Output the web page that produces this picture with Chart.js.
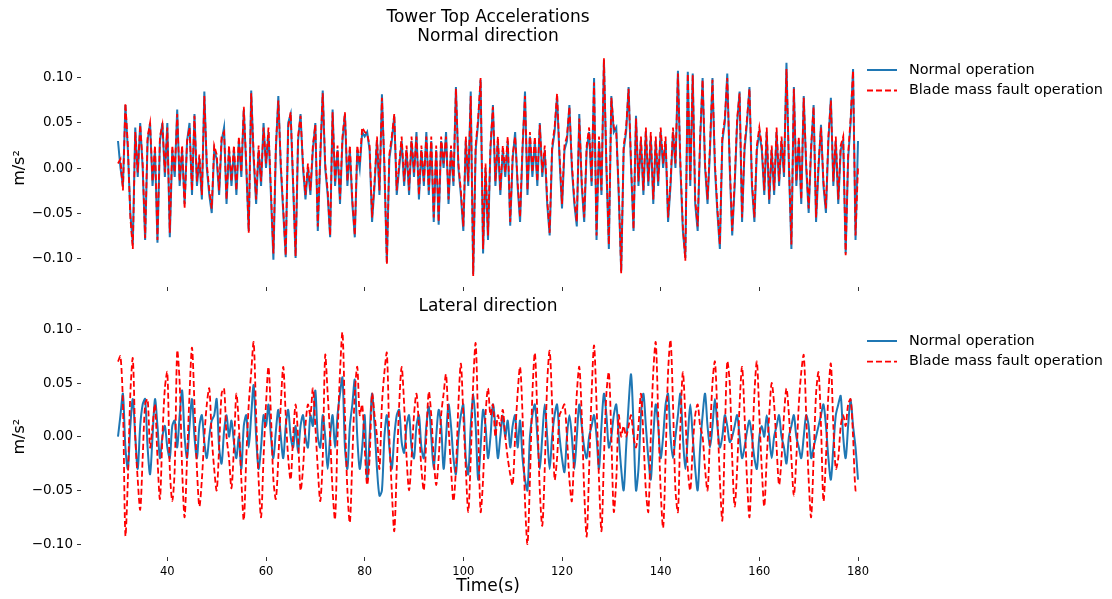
<!DOCTYPE html>
<html><head><meta charset="utf-8">
<script src="https://cdn.jsdelivr.net/npm/chart.js@4/dist/chart.umd.min.js"></script>
<style>
html,body{margin:0;padding:0;background:#fff;width:1112px;height:599px;overflow:hidden}
#wrap{position:relative;width:1112px;height:599px;background:#fff}
canvas{position:absolute;left:0}
#c1{top:0}
#c2{top:290px}
</style></head><body>
<div id="wrap"><canvas id="c1" width="1112" height="300"></canvas><canvas id="c2" width="1112" height="309"></canvas></div>
<script>
// ---- data ----
const startTime = 30, sampleStep = 0.5;           // seconds
const xTickValues = [40, 60, 80, 100, 120, 140, 160, 180];
const yTickValues = [-0.10, -0.05, 0.00, 0.05, 0.10];
const seriesLabels = ['Normal operation', 'Blade mass fault operation'];

// Normal direction, normal operation (m/s^2), every 0.5 s from 30 s to 180 s
const normalDirNormalOp = [
0.03,0.0,-0.02,0.07,0.02,-0.05,-0.085,0.045,-0.01,0.05,
0.0,-0.08,0.03,0.05,-0.02,0.02,-0.083,0.03,0.05,-0.01,
0.05,-0.077,0.02,-0.01,0.065,-0.02,0.02,-0.04,0.03,0.05,
-0.03,0.06,-0.02,0.01,-0.035,0.085,0.0,-0.03,-0.05,0.02,
0.01,-0.03,0.03,0.045,-0.04,0.02,-0.02,0.02,-0.03,0.03,
-0.01,0.065,0.0,-0.07,0.086,0.01,-0.04,0.02,-0.02,0.05,
0.0,0.04,-0.03,-0.102,0.02,0.08,0.0,-0.05,-0.099,0.05,
0.06,-0.02,-0.1,0.03,0.06,0.0,-0.035,0.0,-0.03,0.02,
0.05,-0.07,0.01,0.086,0.0,-0.03,-0.077,0.065,-0.02,0.02,
-0.04,0.03,0.06,-0.02,0.02,-0.04,-0.077,0.02,0.0,0.04,
0.035,0.04,0.02,-0.06,-0.02,0.03,-0.03,0.082,0.0,-0.105,
0.01,0.03,0.058,-0.03,0.0,0.03,-0.02,0.02,-0.03,0.03,
-0.01,0.04,-0.035,0.02,-0.02,0.04,-0.03,0.03,-0.06,0.02,
-0.063,0.03,0.0,0.04,-0.04,0.02,-0.02,0.09,0.0,-0.03,
-0.07,0.03,-0.02,0.085,-0.118,0.02,0.05,0.098,-0.095,0.0,
-0.08,0.02,0.07,-0.02,0.03,-0.03,0.02,-0.01,0.03,-0.064,
0.01,0.04,-0.02,-0.06,0.02,0.085,-0.03,0.035,-0.01,0.03,
-0.02,0.05,-0.01,0.02,-0.04,-0.075,0.02,0.04,0.08,0.01,
-0.045,0.02,0.03,0.07,0.0,-0.04,-0.065,0.06,-0.02,-0.06,
0.02,0.04,-0.02,0.1,-0.08,0.03,-0.03,0.12,0.0,-0.09,
0.08,0.04,0.045,-0.03,-0.115,0.02,0.04,0.09,0.0,-0.07,
0.058,-0.02,0.03,-0.03,0.04,-0.02,0.035,-0.04,0.03,-0.02,
0.04,0.0,0.03,-0.06,-0.02,0.04,0.0,0.108,0.0,-0.07,
-0.1,0.107,-0.02,0.105,-0.04,-0.07,0.03,0.1,0.0,-0.04,
0.02,0.1,0.0,-0.05,-0.09,0.03,0.05,0.105,0.0,-0.075,
-0.02,0.05,0.085,-0.06,0.02,0.05,0.09,-0.02,-0.06,0.02,
0.04,0.02,-0.03,0.04,-0.04,0.02,-0.03,0.04,-0.02,0.03,
-0.01,0.117,0.0,-0.09,0.09,-0.02,0.03,-0.04,0.08,0.0,
-0.05,0.02,0.07,-0.06,0.0,0.048,-0.02,-0.05,0.03,0.078,
-0.02,0.03,-0.04,0.02,0.03,-0.095,0.01,0.05,0.11,-0.08,
0.03];

// Normal direction, blade mass fault operation
const normalDirFaultOp = [
0.005,0.01,-0.025,0.072,0.025,-0.055,-0.09,0.04,-0.005,0.048,
0.005,-0.078,0.035,0.05,-0.015,0.025,-0.08,0.035,0.048,-0.005,
0.045,-0.072,0.025,-0.005,0.06,-0.015,0.025,-0.045,0.03,0.045,
-0.025,0.058,-0.015,0.015,-0.03,0.08,0.005,-0.025,-0.045,0.025,
0.015,-0.025,0.035,0.04,-0.035,0.025,-0.015,0.025,-0.025,0.035,
-0.005,0.068,0.005,-0.072,0.083,0.015,-0.035,0.025,-0.015,0.045,
0.005,0.045,-0.025,-0.095,0.025,0.075,0.005,-0.045,-0.097,0.045,
0.062,-0.015,-0.098,0.035,0.058,0.005,-0.03,0.005,-0.025,0.025,
0.048,-0.065,0.015,0.083,0.005,-0.025,-0.075,0.062,-0.015,0.025,
-0.035,0.035,0.062,-0.015,0.025,-0.035,-0.075,0.025,0.005,0.045,
0.04,0.038,0.025,-0.055,-0.015,0.035,-0.025,0.078,0.005,-0.107,
0.015,0.035,0.06,-0.025,0.005,0.035,-0.015,0.025,-0.025,0.035,
-0.005,0.035,-0.03,0.025,-0.015,0.035,-0.025,0.035,-0.055,0.025,
-0.06,0.035,0.005,0.035,-0.035,0.025,-0.015,0.088,0.005,-0.025,
-0.065,0.035,-0.015,0.08,-0.12,0.025,0.055,0.1,-0.09,0.005,
-0.075,0.025,0.068,-0.015,0.035,-0.025,0.025,-0.005,0.035,-0.06,
0.015,0.035,-0.015,-0.055,0.025,0.08,-0.025,0.04,-0.005,0.035,
-0.015,0.048,-0.005,0.025,-0.035,-0.072,0.025,0.045,0.083,0.015,
-0.04,0.025,0.035,0.068,0.005,-0.035,-0.06,0.055,-0.015,-0.055,
0.025,0.045,-0.015,0.095,-0.075,0.035,-0.025,0.122,0.005,-0.085,
0.078,0.045,0.04,-0.025,-0.117,0.025,0.045,0.088,0.005,-0.068,
0.055,-0.015,0.035,-0.025,0.045,-0.015,0.04,-0.035,0.035,-0.015,
0.045,0.005,0.035,-0.055,-0.015,0.045,0.005,0.105,0.005,-0.065,
-0.103,0.105,-0.015,0.103,-0.035,-0.065,0.035,0.098,0.005,-0.035,
0.025,0.098,0.005,-0.045,-0.085,0.035,0.055,0.1,0.005,-0.07,
-0.015,0.055,0.083,-0.055,0.025,0.055,0.088,-0.015,-0.055,0.025,
0.045,0.025,-0.025,0.045,-0.035,0.025,-0.025,0.045,-0.015,0.035,
-0.005,0.11,0.005,-0.085,0.088,-0.015,0.035,-0.035,0.078,0.005,
-0.045,0.025,0.068,-0.055,0.005,0.045,-0.015,-0.045,0.035,0.075,
-0.015,0.035,-0.035,0.025,0.035,-0.097,0.015,0.055,0.108,-0.075,
0.0];

// Lateral direction, normal operation
const lateralDirNormalOp = [
0.0,0.02,0.04,-0.01,-0.03,0.01,0.035,0.0,-0.03,0.01,
0.03,0.035,-0.01,-0.035,0.0,0.035,0.01,-0.02,0.0,0.01,
-0.01,-0.02,0.01,0.015,-0.01,0.02,0.043,0.0,-0.02,0.01,
0.035,0.0,-0.02,0.01,0.02,-0.005,-0.02,0.0,0.015,0.02,
0.035,-0.01,-0.025,0.005,0.02,0.0,0.015,-0.005,-0.02,0.0,
-0.03,0.01,0.02,-0.01,0.02,0.048,0.0,-0.03,-0.01,0.02,
0.01,0.03,0.0,-0.02,0.005,0.025,0.0,-0.02,0.01,0.025,
0.0,-0.01,0.01,-0.015,0.01,0.02,0.0,-0.01,0.02,0.01,
0.043,0.0,-0.01,0.02,0.0,-0.03,0.0,0.02,-0.01,0.02,
0.04,0.055,-0.01,-0.03,0.01,0.03,0.053,0.0,-0.03,-0.01,
0.02,-0.04,0.0,0.04,0.01,-0.03,-0.055,-0.05,0.0,0.02,
-0.01,-0.03,0.0,0.02,0.025,-0.005,-0.015,0.01,0.02,-0.01,
-0.02,0.01,0.02,-0.01,-0.02,0.01,0.028,0.0,-0.03,0.0,
0.025,0.01,-0.03,0.0,0.03,0.01,-0.02,-0.035,0.0,0.02,
0.03,-0.02,-0.035,0.01,0.04,0.01,-0.04,-0.01,0.025,0.01,
-0.02,0.0,0.03,0.01,-0.02,0.0,0.02,0.0,0.015,-0.01,
0.01,0.02,-0.01,0.015,-0.02,-0.04,-0.05,0.0,0.02,0.03,
0.0,-0.03,0.0,0.03,0.0,-0.03,0.0,0.02,0.03,0.0,
-0.02,-0.033,0.0,0.02,0.0,-0.03,0.0,0.03,0.01,-0.01,
-0.02,0.0,0.01,0.02,0.0,-0.03,0.01,0.04,0.02,-0.01,
0.0,0.02,0.03,0.0,-0.03,-0.05,-0.01,0.03,0.058,0.01,
-0.05,-0.03,0.02,0.04,0.01,-0.02,-0.04,0.0,0.03,0.01,
-0.02,0.0,0.03,0.04,0.0,-0.02,0.0,0.02,0.04,0.0,
-0.03,0.0,0.03,0.0,-0.03,-0.05,-0.01,0.02,0.04,0.01,
-0.01,0.01,0.035,0.01,-0.01,0.0,0.02,0.01,-0.005,0.0,
0.01,0.02,0.0,-0.02,-0.01,0.005,0.015,0.0,-0.02,-0.03,
0.0,0.01,0.0,0.02,0.0,-0.02,0.0,0.01,0.02,0.0,
-0.01,-0.025,0.0,0.01,0.02,0.0,-0.01,-0.02,0.0,0.02,
0.01,-0.02,-0.01,0.0,0.01,0.02,0.03,0.01,-0.02,-0.04,
-0.01,0.02,0.03,0.038,0.0,-0.02,0.01,0.035,0.01,-0.01,
-0.04];

// Lateral direction, blade mass fault operation
const lateralDirFaultOp = [
0.07,0.075,0.03,-0.092,-0.04,0.04,0.073,0.0,-0.04,-0.068,
-0.02,0.03,0.035,-0.01,0.01,0.03,-0.02,-0.058,0.0,0.045,
0.06,-0.03,-0.06,-0.03,0.08,0.05,-0.03,-0.075,-0.02,0.04,
0.083,0.03,-0.03,-0.065,-0.04,0.0,0.03,0.045,0.0,-0.03,
-0.05,-0.01,0.04,0.045,0.0,-0.02,-0.048,-0.01,0.04,0.01,
-0.04,-0.078,-0.02,0.03,0.06,0.088,0.02,-0.04,-0.075,-0.02,
0.03,0.065,0.02,-0.04,-0.058,-0.02,0.03,0.065,0.02,-0.02,
-0.04,0.0,0.03,0.0,-0.05,-0.03,0.01,0.03,0.02,0.045,
0.01,-0.03,-0.06,-0.02,0.076,0.04,0.0,-0.05,-0.077,0.0,
0.06,0.097,0.02,-0.05,-0.08,-0.02,0.04,0.065,0.02,0.03,
-0.01,-0.045,-0.02,0.04,0.02,0.0,-0.03,0.03,0.06,0.078,
0.0,-0.05,-0.088,-0.03,0.03,0.065,0.03,-0.02,-0.05,-0.02,
0.02,0.04,0.01,-0.03,-0.05,0.0,0.042,0.02,-0.02,-0.045,
-0.02,0.02,0.04,0.058,0.01,-0.03,-0.06,-0.03,0.03,0.068,
0.02,-0.03,-0.07,-0.02,0.05,0.087,0.01,-0.07,-0.04,0.02,
0.045,0.02,0.03,0.0,0.02,0.01,0.025,0.0,-0.02,-0.035,
-0.045,0.0,0.04,0.065,0.02,-0.06,-0.1,-0.04,0.04,0.078,
0.02,-0.05,-0.083,-0.03,0.05,0.08,0.03,-0.04,-0.02,0.02,
0.025,0.03,0.0,-0.04,-0.06,-0.01,0.04,0.065,0.02,-0.05,
-0.093,-0.03,0.04,0.085,0.03,-0.04,-0.088,-0.02,0.04,0.06,
0.0,-0.07,-0.04,0.02,0.0,0.01,0.0,0.01,0.02,0.0,
-0.01,0.01,0.04,0.0,-0.05,-0.07,0.0,0.06,0.088,0.02,
-0.05,-0.085,-0.02,0.06,0.09,0.03,-0.05,-0.07,0.01,0.06,
0.02,-0.03,-0.05,-0.01,0.02,0.03,0.01,0.0,-0.03,-0.05,
0.0,0.05,0.07,0.02,-0.04,-0.078,0.0,0.07,0.05,-0.02,
-0.065,-0.03,0.03,0.065,0.02,-0.04,-0.075,-0.02,0.04,0.07,
0.02,-0.03,-0.065,-0.02,0.02,0.05,0.03,-0.01,-0.045,-0.02,
0.02,0.045,0.02,-0.02,-0.055,-0.02,0.03,0.06,0.076,0.02,
-0.04,-0.075,-0.02,0.04,0.06,0.01,-0.06,-0.02,0.04,0.068,
0.01,-0.03,-0.02,0.01,0.02,0.01,0.03,0.035,0.0,-0.05,
-0.05];

// ---- rendering ----
const FONT = "'DejaVu Sans', sans-serif";
Chart.defaults.font.family = FONT;
Chart.defaults.color = '#000';

function toPoints(vals) {
  return vals.map((v, i) => ({ x: startTime + i * sampleStep, y: v }));
}
function fmtY(v) {
  const s = Math.abs(v).toFixed(2);
  return (v < -1e-9 ? '\u2212' : '') + s;
}

const fixedLegend = {
  id: 'fixedLegend',
  afterDraw(chart, args, opts) {
    const ctx = chart.ctx;
    ctx.save();
    ctx.font = '14.4px ' + FONT;
    ctx.textBaseline = 'middle';
    ctx.textAlign = 'left';
    chart.data.datasets.forEach((ds, k) => {
      const y = opts.rows[k];
      ctx.beginPath();
      ctx.strokeStyle = ds.borderColor;
      ctx.lineWidth = ds.borderWidth;
      ctx.setLineDash(ds.borderDash || []);
      ctx.moveTo(867, y);
      ctx.lineTo(897, y);
      ctx.stroke();
      ctx.setLineDash([]);
      ctx.fillStyle = '#000';
      ctx.fillText(ds.label, 909, y);
    });
    ctx.restore();
  }
};

function makeChart(id, cfg) {
  return new Chart(document.getElementById(id), {
    type: 'line',
    data: {
      datasets: [
        { label: seriesLabels[0], data: toPoints(cfg.normal), borderColor: '#1f77b4',
          borderWidth: 2, pointRadius: 0, tension: cfg.tension, order: 1 },
        { label: seriesLabels[1], data: toPoints(cfg.fault), borderColor: '#ff0000',
          borderWidth: 1.8, borderDash: [6, 3], pointRadius: 0, tension: cfg.tension, order: 0 }
      ]
    },
    options: {
      responsive: false, animation: false, devicePixelRatio: 1, events: [],
      layout: { padding: { left: 0, right: 217, top: 0, bottom: 0 } },
      plugins: {
        legend: { display: false },
        tooltip: { enabled: false },
        title: { display: true, text: cfg.title, fullSize: false,
          font: { size: 17, weight: 'normal', lineHeight: 1.1 }, color: '#000',
          padding: cfg.titlePad },
        fixedLegend: { rows: cfg.legendRows }
      },
      scales: {
        x: {
          type: 'linear', min: 22.5, max: 187.5,
          afterBuildTicks: s => { s.ticks = xTickValues.map(v => ({ value: v })); },
          afterFit: s => { s.height = cfg.xAxisHeight; },
          border: { display: false },
          grid: { drawOnChartArea: false, drawTicks: true, tickLength: 4, color: '#333', tickColor: '#333', lineWidth: 1 },
          ticks: { autoSkip: false, maxRotation: 0, padding: 4, font: { size: 11.5 }, color: '#000',
            callback: v => cfg.showXLabels ? String(v) : '' },
          title: { display: cfg.showXLabels, text: 'Time(s)', font: { size: 17, lineHeight: 1.1 }, color: '#000',
            padding: { top: 0, bottom: 3 } }
        },
        y: {
          type: 'linear', min: cfg.yMin, max: cfg.yMax,
          afterBuildTicks: s => { s.ticks = yTickValues.map(v => ({ value: v })); },
          afterFit: s => { s.width = 81; },
          border: { display: false },
          grid: { drawOnChartArea: false, drawTicks: true, tickLength: 4, color: '#333', tickColor: '#333', lineWidth: 1 },
          ticks: { padding: 4, font: { size: 13.5 }, color: '#000', callback: v => fmtY(v) },
          title: { display: true, text: 'm/s\u00b2', font: { size: 16, lineHeight: 1.2 }, color: '#000',
            padding: { top: 10, bottom: 0 } }
        }
      }
    },
    plugins: [fixedLegend]
  });
}

makeChart('c1', {
  normal: normalDirNormalOp, fault: normalDirFaultOp, tension: 0,
  title: ['Tower Top Accelerations', 'Normal direction'],
  titlePad: { top: 8.65, bottom: 2.95 },
  yMin: -0.1322, yMax: 0.1322, xAxisHeight: 13, showXLabels: false,
  legendRows: [70, 90.5]
});
makeChart('c2', {
  normal: lateralDirNormalOp, fault: lateralDirFaultOp, tension: 0.3,
  title: 'Lateral direction',
  titlePad: { top: 7.65, bottom: 0 },
  yMin: -0.1121, yMax: 0.1121, xAxisHeight: 42, showXLabels: true,
  legendRows: [51, 71.7]
});
</script>
</body></html>
